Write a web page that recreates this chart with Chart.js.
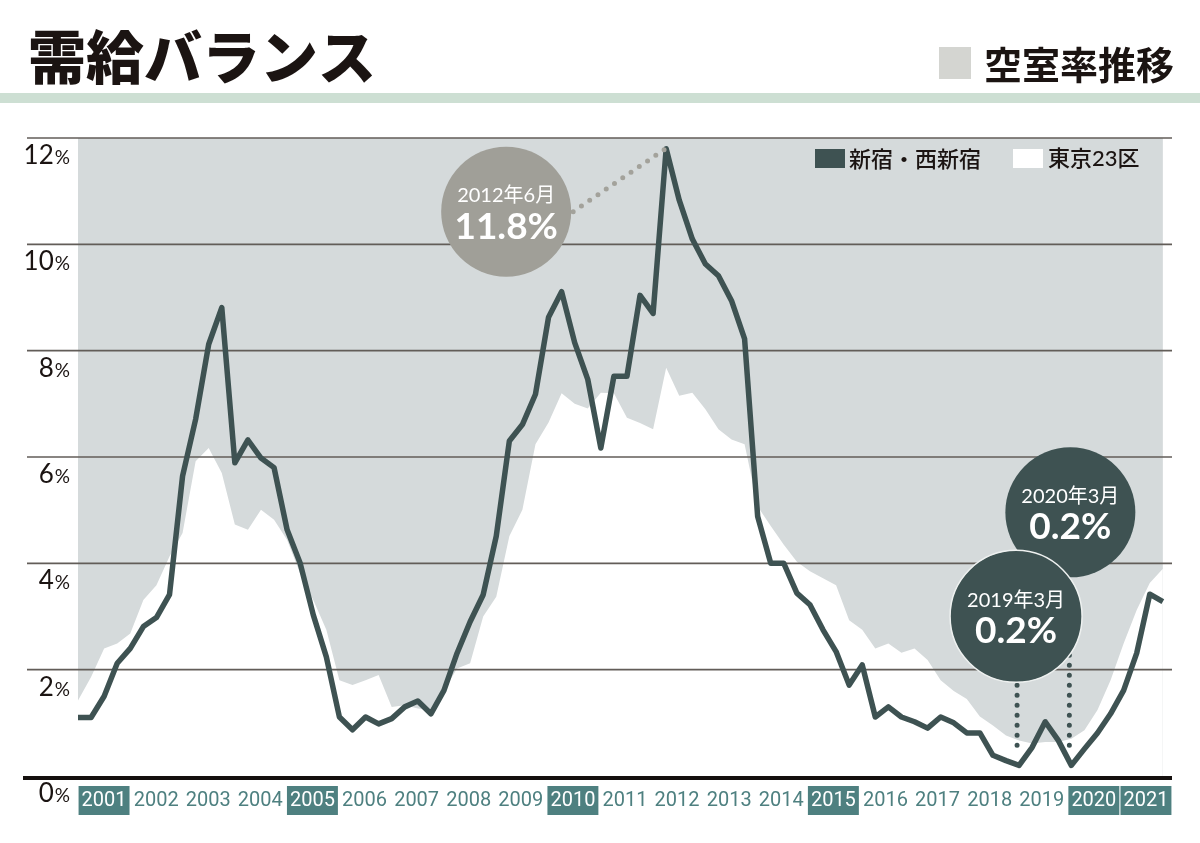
<!DOCTYPE html>
<html>
<head>
<meta charset="utf-8">
<script src="https://cdn.jsdelivr.net/npm/chart.js"></script>
<style>
  html, body { margin: 0; padding: 0; background: #fff; }
  #wrap { width: 1200px; height: 843px; }
</style>
</head>
<body>
<div id="wrap"><canvas id="vacancyChart" width="1200" height="843"></canvas></div>
<script>
// quarterly vacancy rate (%), 2001 Q1 .. 2021 Q4
var years = ['2001', '2002', '2003', '2004', '2005', '2006', '2007', '2008', '2009', '2010', '2011',
             '2012', '2013', '2014', '2015', '2016', '2017', '2018', '2019', '2020', '2021'];
var highlightYears = ['2001', '2005', '2010', '2015', '2020', '2021'];
var yTicks = [0, 2, 4, 6, 8, 10, 12];

var shinjuku = [
  1.10, 1.10, 1.50, 2.12, 2.40, 2.81, 2.98, 3.41, 5.64, 6.71, 8.12, 8.81,
  5.89, 6.32, 5.98, 5.80, 4.63, 4.00, 3.03, 2.24, 1.11, 0.87, 1.11, 0.98,
  1.08, 1.30, 1.41, 1.17, 1.61, 2.31, 2.90, 3.41, 4.51, 6.30, 6.61, 7.18,
  8.63, 9.11, 8.15, 7.46, 6.17, 7.52, 7.52, 9.04, 8.70, 11.8, 10.83, 10.10,
  9.63, 9.41, 8.94, 8.22, 4.88, 4.00, 4.00, 3.44, 3.22, 2.75, 2.34, 1.71,
  2.09, 1.11, 1.30, 1.11, 1.02, 0.90, 1.11, 1.00, 0.81, 0.81, 0.39, 0.29,
  0.2, 0.54, 1.02, 0.67, 0.2, 0.51, 0.81, 1.17, 1.61, 2.31, 3.42, 3.28
];
var tokyo23 = [
  1.42, 1.86, 2.40, 2.49, 2.68, 3.31, 3.59, 4.13, 4.57, 5.92, 6.17, 5.70,
  4.73, 4.63, 5.01, 4.82, 4.44, 3.81, 3.31, 2.75, 1.80, 1.71, 1.80, 1.90,
  1.30, 1.33, 1.27, 1.24, 1.61, 2.02, 2.12, 3.00, 3.37, 4.51, 5.01, 6.24,
  6.65, 7.20, 7.00, 6.91, 7.21, 7.20, 6.74, 6.64, 6.52, 7.68, 7.15, 7.21,
  6.90, 6.52, 6.33, 6.24, 5.07, 4.70, 4.35, 4.03, 3.85, 3.72, 3.59, 2.93,
  2.75, 2.40, 2.49, 2.32, 2.40, 2.18, 1.80, 1.60, 1.45, 1.12, 0.95, 0.76,
  0.67, 0.61, 0.64, 0.64, 0.70, 0.86, 1.24, 1.80, 2.49, 3.12, 3.63, 3.90
];

// callouts: quarter index, date text, value text
var calloutIndex = [45, 76, 72];
var calloutDate = ['2012年6月', '2020年3月', '2019年3月'];
var calloutValue = ['11.8%', '0.2%', '0.2%'];

var darkGreen = '#3e5252';
var teal = '#4e8080';
var paleGray = '#d5dadb';
var jp = '"Noto Sans CJK JP", sans-serif';
var num = 'Lato, "Noto Sans CJK JP", sans-serif';

function toPoints(arr) {
  return arr.map(function (v, i) { return { x: i, y: v }; });
}

function isHighlight(i) {
  return highlightYears.indexOf(years[i]) !== -1;
}

function dots(c, x1, y1, x2, y2, color) {
  c.save();
  c.strokeStyle = color;
  c.lineWidth = 5;
  c.lineCap = 'round';
  c.setLineDash([0, 10]);
  c.beginPath();
  c.moveTo(x1, y1);
  c.lineTo(x2, y2);
  c.stroke();
  c.restore();
}

function bubble(c, cx, cy, r, fill, date, value, ring) {
  c.save();
  c.beginPath();
  c.arc(cx, cy, r, 0, Math.PI * 2);
  c.fillStyle = fill;
  c.fill();
  if (ring) {
    c.lineWidth = 1.5;
    c.strokeStyle = '#eef1f0';
    c.stroke();
  }
  c.fillStyle = '#fff';
  c.textAlign = 'center';
  c.textBaseline = 'middle';
  c.font = '20px ' + num;
  c.fillText(date, cx, cy - 16);
  c.font = 'bold 37px ' + num;
  c.fillText(value, cx, cy + 15);
  c.restore();
}

var decor = {
  id: 'decor',
  beforeDraw: function (chart) {
    var c = chart.ctx, a = chart.chartArea, xs = chart.scales.x;
    c.save();
    c.fillStyle = '#fff';
    c.fillRect(0, 0, chart.width, chart.height);

    // heading
    c.fillStyle = '#1b1412';
    c.textBaseline = 'middle';
    c.textAlign = 'left';
    c.font = '900 58px ' + jp;
    c.fillText('需給バランス', 28, 57);
    c.textAlign = 'right';
    c.font = 'bold 38px ' + jp;
    c.fillText('空室率推移', 1174, 65);
    c.fillStyle = '#d4d5d1';
    c.fillRect(939, 47, 32, 32);
    c.fillStyle = '#cddfd3';
    c.fillRect(0, 93, chart.width, 10);

    // plot background
    c.fillStyle = paleGray;
    var x0 = xs.getPixelForValue(0), x1 = xs.getPixelForValue(shinjuku.length - 1);
    c.fillRect(x0, a.top, x1 - x0, a.bottom - a.top);
    c.restore();
  },
  afterDatasetDraw: function (chart, args) {
    // grid goes over the white area but under the Shinjuku line
    if (args.index !== 1) return;
    var c = chart.ctx, a = chart.chartArea, ys = chart.scales.y;
    c.save();
    c.strokeStyle = '#625d58';
    c.lineWidth = 1.6;
    yTicks.forEach(function (v) {
      if (v === 0) return;
      var y = ys.getPixelForValue(v);
      c.beginPath();
      c.moveTo(a.left - 51, y);
      c.lineTo(a.right, y);
      c.stroke();
    });
    c.restore();
  },
  afterDraw: function (chart) {
    var c = chart.ctx, a = chart.chartArea, xs = chart.scales.x, ys = chart.scales.y;
    c.save();

    // base line
    c.fillStyle = '#15100e';
    c.fillRect(a.left - 55, a.bottom, a.right - a.left + 55, 4);

    // y labels, small percent sign
    c.fillStyle = '#1b1412';
    c.textBaseline = 'alphabetic';
    c.textAlign = 'right';
    yTicks.forEach(function (v) {
      var y = ys.getPixelForValue(v) + 26;
      c.font = '19px ' + num;
      var pw = c.measureText('%').width;
      c.fillText('%', a.left - 8, y);
      c.font = '26px ' + num;
      c.fillText(String(v), a.left - 9 - pw, y);
    });

    // legend
    c.textAlign = 'left';
    c.textBaseline = 'middle';
    c.font = '500 22px ' + jp;
    c.fillStyle = darkGreen;
    c.fillRect(815, 149, 30, 19);
    c.fillStyle = '#1b1412';
    c.fillText(chart.data.datasets[0].label, 849, 159);
    c.fillStyle = '#fff';
    c.fillRect(1013, 149, 30, 19);
    c.fillStyle = '#1b1412';
    c.font = '500 22px ' + num;
    c.fillText(chart.data.datasets[1].label, 1048, 159);

    // callouts
    var p = calloutIndex.map(function (i) {
      return { x: xs.getPixelForValue(i), y: ys.getPixelForValue(shinjuku[i]) };
    });
    var r = 65;
    // 2012 peak
    var c0 = { x: p[0].x - 160, y: p[0].y + 63 };
    dots(c, c0.x + r + 2, c0.y, p[0].x - 2, p[0].y + 1, '#a3a29b');
    bubble(c, c0.x, c0.y, r, '#a09f98', calloutDate[0], calloutValue[0], false);
    // 2020 and 2019 lows
    var c1 = { x: p[1].x - 1, y: p[1].y - 253 };
    var c2 = { x: p[2].x - 3, y: p[2].y - 149 };
    dots(c, p[1].x - 2, p[1].y - 20, p[1].x - 2, c1.y + r, darkGreen);
    dots(c, p[2].x - 2, p[2].y - 20, p[2].x - 2, c2.y + r, darkGreen);
    bubble(c, c1.x, c1.y, r, darkGreen, calloutDate[1], calloutValue[1], false);
    bubble(c, c2.x, c2.y, r + 1, darkGreen, calloutDate[2], calloutValue[2], true);
    c.restore();
  }
};

var ctx = document.getElementById('vacancyChart').getContext('2d');
var vacancyChart = new Chart(ctx, {
  type: 'line',
  data: {
    datasets: [{
      label: '新宿・西新宿',
      data: toPoints(shinjuku),
      borderColor: darkGreen,
      borderWidth: 5.5,
      borderJoinStyle: 'round',
      pointRadius: 0,
      fill: false,
      tension: 0
    }, {
      label: '東京23区',
      data: toPoints(tokyo23),
      borderWidth: 0,
      borderColor: 'rgba(0,0,0,0)',
      backgroundColor: '#ffffff',
      pointRadius: 0,
      fill: 'origin',
      tension: 0
    }]
  },
  options: {
    responsive: false,
    animation: false,
    devicePixelRatio: 1,
    layout: { padding: { left: 78, right: 28, top: 138, bottom: 0 } },
    plugins: {
      legend: { display: false },
      tooltip: { enabled: false }
    },
    scales: {
      x: { type: 'linear', min: 0, max: 83.7, display: false },
      years: {
        type: 'category',
        labels: years,
        position: 'bottom',
        offset: true,
        grid: { display: false, drawTicks: false },
        border: { display: false },
        ticks: {
          autoSkip: false,
          maxRotation: 0,
          padding: 13,
          font: { family: 'Roboto, sans-serif', size: 20, lineHeight: 1.15 },
          color: function (c) { return isHighlight(c.index) ? '#ffffff' : teal; },
          showLabelBackdrop: true,
          backdropColor: function (c) { return isHighlight(c.index) ? teal : 'rgba(0,0,0,0)'; },
          backdropPadding: { top: 3, bottom: 3, left: 3, right: 3 }
        },
        afterFit: function (s) { s.height = 67; }
      },
      y: { min: 0, max: 12, display: false }
    }
  },
  plugins: [decor]
});
</script>
</body>
</html>
